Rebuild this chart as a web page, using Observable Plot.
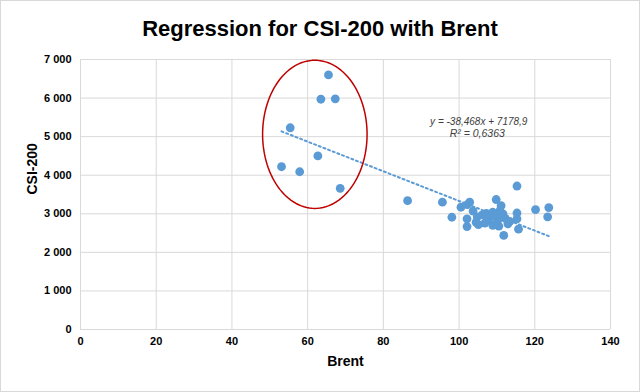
<!DOCTYPE html>
<html>
<head>
<meta charset="utf-8">
<script src="https://cdn.jsdelivr.net/npm/d3@7"></script>
<script src="https://cdn.jsdelivr.net/npm/@observablehq/plot@0.6"></script>
<style>
  html, body { margin: 0; padding: 0; background: #fff; }
  #frame {
    position: relative; width: 640px; height: 392px; box-sizing: border-box;
    border: 1px solid #d9d9d9; background: #fff; overflow: hidden;
    font-family: "Liberation Sans", Arial, sans-serif;
  }
  #title {
    height: 44px; line-height: 56px; text-align: center;
    font-size: 22px; font-weight: bold; color: #000;
  }
  #chart svg { display: block; }
</style>
</head>
<body>
<div id="frame">
  <div id="title">Regression for CSI-200 with Brent</div>
  <div id="chart"></div>
</div>
<script>
const brent = [65.5, 63.5, 67.3, 55.4, 62.7, 53.1, 57.9, 68.6,
  86.4, 95.6, 98.1, 100.5, 102.8, 102.2, 103.7, 102.1, 102.1, 105.1, 106.1, 109.8,
  111.1, 108.9, 107.6, 108.9, 110.2, 111.5, 112.9, 111.8, 115.3, 115.3, 115.7, 115.3,
  120.2, 123.7, 123.4, 104.5, 106.8, 108.2, 109.5, 110.5, 110.8, 112.2, 113.4, 107.2,
  104.8, 109.9, 111.6];
const csi = [6600, 5970, 5980, 5230, 4500, 4220, 4090, 3660,
  3340, 3300, 2910, 3170, 3300, 3240, 3070, 2870, 2670, 2720, 2970, 3370,
  3210, 3040, 2830, 2700, 2830, 2960, 2740, 2440, 3020, 2870, 2600, 3720,
  3110, 3160, 2920, 2780, 2760, 2920, 2950, 2680, 3080, 2880, 2800, 3010,
  2920, 2780, 3000];

// Trendline as given by the chart's equation
const slope = -38.468;
const intercept = 7178.9;
const equationLines = ["y = -38,468x + 7178,9", "R² = 0,6363"];

// Axis ticks
const xTicks = [0, 20, 40, 60, 80, 100, 120, 140];
const yTicks = [0, 1000, 2000, 3000, 4000, 5000, 6000, 7000];

// Highlight ellipse (annotation) in data units
const ellipseCenter = [61.9, 5060];
const ellipseRadii = [13.8, 1920];

const points = brent.map((b, i) => ({x: b, y: csi[i]}));
const xMin = d3.min(brent), xMax = d3.max(brent);
const trend = [xMin, xMax].map(x => ({x, y: slope * x + intercept}));
const ellipse = d3.range(0, 121).map(i => {
  const t = (i / 120) * 2 * Math.PI;
  return {x: ellipseCenter[0] + ellipseRadii[0] * Math.cos(t), y: ellipseCenter[1] + ellipseRadii[1] * Math.sin(t)};
});
const fmt = d => d3.format(",")(d).replace(/,/g, " ");

const chart = Plot.plot({
  width: 638,
  height: 346,
  marginTop: 14,
  marginLeft: 79,
  marginRight: 29,
  marginBottom: 62,
  style: {fontFamily: "'Liberation Sans', Arial, sans-serif", fontSize: "11px", fontWeight: "bold", color: "#000", background: "#fff"},
  x: {domain: [0, 140], ticks: xTicks, tickSize: 0, tickPadding: 8, label: null},
  y: {domain: [0, 7000], ticks: yTicks, tickSize: 0, tickPadding: 9, tickFormat: fmt, label: null},
  marks: [
    Plot.ruleX(xTicks, {stroke: "#d9d9d9", strokeWidth: 1}),
    Plot.ruleY(yTicks, {stroke: "#d9d9d9", strokeWidth: 1}),
    Plot.axisX({ticks: xTicks, tickSize: 0, tickPadding: 8, fontWeight: "bold", label: null}),
    Plot.axisY({ticks: yTicks, tickSize: 0, tickPadding: 9, tickFormat: fmt, fontWeight: "bold", label: null}),
    Plot.dot(points, {x: "x", y: "y", r: 4.4, fill: "#5B9BD5", stroke: "none"}),
    Plot.line(trend, {x: "x", y: "y", stroke: "#5B9BD5", strokeWidth: 2, strokeDasharray: "2 3"}),
    Plot.line(ellipse, {x: "x", y: "y", stroke: "#C00000", strokeWidth: 1.5, curve: "linear"}),
    Plot.text([equationLines[0]], {x: 105.2, y: 5390, text: d => d, textAnchor: "middle", fontStyle: "italic", fontWeight: "normal", fontSize: 10, fill: "#404040"}),
    Plot.text([equationLines[1]], {x: 104.8, y: 5090, text: d => d, textAnchor: "middle", fontStyle: "italic", fontWeight: "normal", fontSize: 10.5, fill: "#404040"}),
    Plot.text(["Brent"], {frameAnchor: "bottom", dy: 36, text: d => d, fontSize: 14, fontWeight: "bold", fill: "#000"}),
    Plot.text(["CSI-200"], {frameAnchor: "left", dx: -48, rotate: -90, text: d => d, fontSize: 14, fontWeight: "bold", fill: "#000"})
  ]
});
document.getElementById("chart").appendChild(chart);
</script>
</body>
</html>
